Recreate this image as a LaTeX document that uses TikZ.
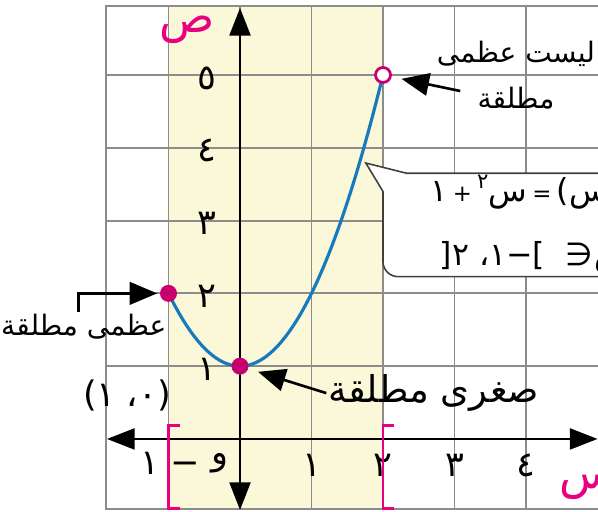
\documentclass[tikz,border=0pt]{standalone}
\usepackage{fontspec}
\newfontfamily\arabicfont[Script=Arabic]{DejaVu Sans}
\TeXXeTstate=1
\usepackage{xcolor}
\usepackage{tikz}
\usetikzlibrary{arrows.meta,positioning}
\definecolor{gridgray}{RGB}{140,140,140}
\definecolor{domainyellow}{RGB}{250,248,216}
\definecolor{curveblue}{RGB}{22,122,190}
\definecolor{pointmagenta}{RGB}{200,0,110}
\definecolor{axismagenta}{RGB}{232,0,128}
\newcommand{\narrowop}[1]{{\fontsize{13}{13}\selectfont #1}}

\begin{document}
\begin{tikzpicture}[
  x=1.43cm, y=1.456cm,
  gridline/.style={draw=gridgray, line width=1.1pt},
  axisline/.style={{Triangle[length=5.5mm,width=4.2mm]}-{Triangle[length=5.5mm,width=4.2mm]},
                   line width=1.1pt},
  callarrow/.style={-{Triangle[length=5.5mm,width=4.5mm]}, line width=1.5pt},
  curve/.style={draw=curveblue, line width=1.8pt},
  fulldot/.style={circle, fill=pointmagenta, inner sep=0pt, minimum size=3.4mm},
  opendot/.style={circle, draw=pointmagenta, fill=white, line width=1.6pt,
                  inner sep=0pt, minimum size=3mm},
  word/.style={font=\arabicfont\fontsize{21}{27}\selectfont, inner sep=1pt},
  smallword/.style={font=\arabicfont\fontsize{16}{26}\selectfont, inner sep=1pt},
  tick/.style={font=\arabicfont\fontsize{20}{22}\selectfont, inner sep=0pt},
  ruletext/.style={font=\arabicfont\fontsize{18}{20}\selectfont, inner sep=0pt},
  axislabel/.style={font=\arabicfont\fontsize{26}{28}\selectfont, text=axismagenta,
                    inner sep=0pt},
  bracket/.style={draw=axismagenta, line width=1.6pt},
  bubble/.style={draw=black!75, fill=white, line width=0.9pt}
]
\useasboundingbox (-3.357,-1.003) rectangle (5.007,6.030);

% domain strip and grid
\fill[domainyellow] (-1,-0.962) rectangle (2,5.948);
\foreach \x in {-1,...,4}
  \draw[gridline] (\x,-0.962) -- (\x,5.948);
\foreach \y in {1,...,5}
  \draw[gridline] (-1.874,\y) -- (5.2,\y);
\draw[gridline] (5.2,5.948) -| (-1.874,-0.962) -- (5.2,-0.962);

% axes
\draw[axisline] (-1.86,0) -- (5.0,0);
\draw[axisline] (0,-0.975) -- (0,5.92);
\node[axislabel] (ylbl) at (-0.74,5.62) {ص};
\node[axislabel, anchor=west] (xlbl) at (4.47,-0.64) {س};

% ticks
\foreach \x/\t in {1/١,2/٢,3/٣,4/٤}
  \node[tick] (xt\x) at (\x,-0.36) {\t};
\foreach \y/\t in {1/١,2/٢,3/٣,4/٤,5/٥}
  \node[tick] (yt\y) at (-0.46,\y-0.04) {\t};
\node[tick] (xtm) at (-0.98,-0.34) {\beginR − ١\endR};
\node[tick] (orig) at (-0.28,-0.33) {و};

% domain brackets
\draw[bracket] (-0.84,0.18) -- (-1,0.18) -- (-1,-0.96) -- (-0.84,-0.96);
\draw[bracket] (2.16,0.18) -- (2,0.18) -- (2,-0.96) -- (2.16,-0.96);

% graph of the function
\draw[curve] plot[domain=-1:2, samples=60] (\x,{\x*\x+1});
\node[fulldot] (maxpt) at (-1,2) {};
\node[fulldot] (minpt) at (0,1) {};
\node[opendot] (endpt) at (2,5) {};

% callout with the rule
\coordinate (tip) at (1.76,3.79);
\draw[bubble, rounded corners=3mm] (2.0,3.65) rectangle (5.6,2.23);
\fill[white] (tip) -- (2.33,3.65) -- (2.0,3.40) -- cycle;
\draw[black!75, line width=0.9pt] (2.0,3.40) -- (tip) -- (2.33,3.65);
\node[ruletext, anchor=west] (rule) at (2.66,3.39)
  {\beginR د(س)\,\narrowop{=}\,س\raisebox{0.8ex}{\fontsize{12}{12}\selectfont ٢}\,\narrowop{+}\,١\endR};
\node[ruletext, anchor=west] (dom) at (2.79,2.50) {\beginR س\hspace{1pt}∈\hspace{11.5pt}]−١، ٢[\endR};

% labels and arrows
\node[word] (minlbl) at (2.71,0.63) {\beginR صغرى مطلقة\endR};
\node[smallword, anchor=east] (maxlbl) at (-1.0,1.54) {\beginR عظمى مطلقة\endR};
\node[smallword, align=center] (nomaxlbl) at (3.86,5.0)
  {\beginR ليست عظمى\endR\\\beginR مطلقة\endR};
\node[tick] (minxy) at (-1.58,0.60) {\beginR (٠، ١)\endR};
\coordinate (nmtail) at (3.08,4.78);

\draw[callarrow, shorten >=2mm] (nmtail) -- (endpt);
\draw[callarrow, shorten >=0.5mm] ([xshift=-1mm]maxlbl.north) |- (maxpt);
\draw[callarrow, shorten >=2mm] (minlbl.west) -- (minpt);
\end{tikzpicture}
\end{document}
